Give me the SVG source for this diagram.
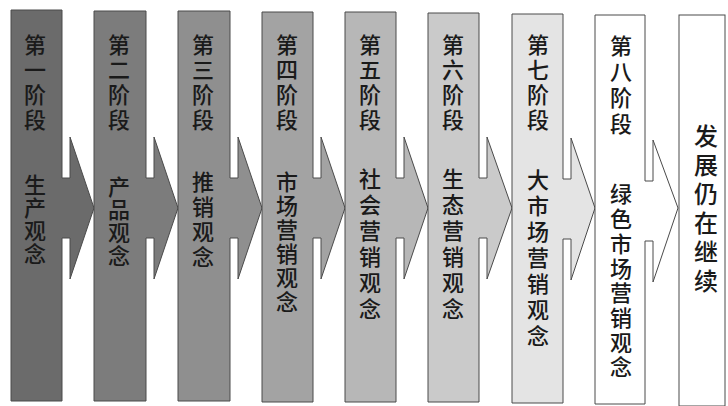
<svg xmlns="http://www.w3.org/2000/svg" width="728" height="406" viewBox="0 0 728 406">
<style>
.n{stroke:#4a4a4a;stroke-width:1}
.t{font-family:"Noto Sans CJK SC","Noto Sans",sans-serif;font-size:22px;font-weight:500;fill:#1a1a1a;text-anchor:middle;dominant-baseline:central}
.t9{font-size:24px}
</style>
<rect width="728" height="406" fill="#ffffff"/>
<g id="stage1">
<polygon class="n" fill="#6b6b6b" points="11,10 62,10 62,178 70,178 70,137 94,208 70,279 70,238 62,238 62,401 11,401"/>
<text class="t"><tspan x="35" y="43">第</tspan><tspan x="35" y="68">一</tspan><tspan x="35" y="93">阶</tspan><tspan x="35" y="118">段</tspan><tspan x="35" y="183">生</tspan><tspan x="35" y="206">产</tspan><tspan x="35" y="229">观</tspan><tspan x="35" y="252">念</tspan></text>
</g>
<g id="stage2">
<polygon class="n" fill="#7c7c7c" points="94,11 146,11 146,178 154,178 154,137 178,208 154,279 154,238 146,238 146,401 94,401"/>
<text class="t"><tspan x="119" y="43">第</tspan><tspan x="119" y="68">二</tspan><tspan x="119" y="93">阶</tspan><tspan x="119" y="118">段</tspan><tspan x="119" y="185">产</tspan><tspan x="119" y="208">品</tspan><tspan x="119" y="231">观</tspan><tspan x="119" y="254">念</tspan></text>
</g>
<g id="stage3">
<polygon class="n" fill="#8f8f8f" points="178,11 230,11 230,178 238,178 238,137 262,208 238,279 238,238 230,238 230,401 178,401"/>
<text class="t"><tspan x="203" y="43">第</tspan><tspan x="203" y="68">三</tspan><tspan x="203" y="93">阶</tspan><tspan x="203" y="118">段</tspan><tspan x="203" y="180">推</tspan><tspan x="203" y="205">销</tspan><tspan x="203" y="230">观</tspan><tspan x="203" y="255">念</tspan></text>
</g>
<g id="stage4">
<polygon class="n" fill="#a3a3a3" points="262,12 313,12 313,178 321,178 321,137 345,208 321,279 321,238 313,238 313,402 262,402"/>
<text class="t"><tspan x="287" y="43">第</tspan><tspan x="287" y="68">四</tspan><tspan x="287" y="93">阶</tspan><tspan x="287" y="118">段</tspan><tspan x="287" y="180">市</tspan><tspan x="287" y="204">场</tspan><tspan x="287" y="228">营</tspan><tspan x="287" y="252">销</tspan><tspan x="287" y="276">观</tspan><tspan x="287" y="300">念</tspan></text>
</g>
<g id="stage5">
<polygon class="n" fill="#b7b7b7" points="345,12 396,12 396,178 404,178 404,137 428,208 404,279 404,238 396,238 396,402 345,402"/>
<text class="t"><tspan x="370" y="43">第</tspan><tspan x="370" y="68">五</tspan><tspan x="370" y="93">阶</tspan><tspan x="370" y="118">段</tspan><tspan x="370" y="177">社</tspan><tspan x="370" y="203">会</tspan><tspan x="370" y="229">营</tspan><tspan x="370" y="255">销</tspan><tspan x="370" y="281">观</tspan><tspan x="370" y="307">念</tspan></text>
</g>
<g id="stage6">
<polygon class="n" fill="#cacaca" points="428,13 479,13 479,178 487,178 487,137 512,208 487,279 487,238 479,238 479,402 428,402"/>
<text class="t"><tspan x="453" y="43">第</tspan><tspan x="453" y="68">六</tspan><tspan x="453" y="93">阶</tspan><tspan x="453" y="118">段</tspan><tspan x="453" y="177">生</tspan><tspan x="453" y="203">态</tspan><tspan x="453" y="229">营</tspan><tspan x="453" y="255">销</tspan><tspan x="453" y="281">观</tspan><tspan x="453" y="307">念</tspan></text>
</g>
<g id="stage7">
<polygon class="n" fill="#e4e4e4" points="512,14 563,14 563,179 571,179 571,138 595,208 571,280 571,239 563,239 563,403 512,403"/>
<text class="t"><tspan x="538" y="43">第</tspan><tspan x="538" y="68">七</tspan><tspan x="538" y="93">阶</tspan><tspan x="538" y="118">段</tspan><tspan x="538" y="178">大</tspan><tspan x="538" y="204">市</tspan><tspan x="538" y="230">场</tspan><tspan x="538" y="256">营</tspan><tspan x="538" y="282">销</tspan><tspan x="538" y="308">观</tspan><tspan x="538" y="334">念</tspan></text>
</g>
<g id="stage8">
<polygon class="n" fill="#ffffff" points="595,15 645,15 645,181 653,181 653,140 678,208 653,282 653,241 645,241 645,404 595,404"/>
<text class="t"><tspan x="621" y="44">第</tspan><tspan x="621" y="70">八</tspan><tspan x="621" y="96">阶</tspan><tspan x="621" y="122">段</tspan><tspan x="621" y="192">绿</tspan><tspan x="621" y="217">色</tspan><tspan x="621" y="242">市</tspan><tspan x="621" y="267">场</tspan><tspan x="621" y="291">营</tspan><tspan x="621" y="316">销</tspan><tspan x="621" y="341">观</tspan><tspan x="621" y="365">念</tspan></text>
</g>
<g id="continue">
<rect class="n" fill="#ffffff" x="679" y="15" width="46" height="391"/>
<text class="t t9"><tspan x="706" y="134">发</tspan><tspan x="706" y="163">展</tspan><tspan x="706" y="192">仍</tspan><tspan x="706" y="221">在</tspan><tspan x="706" y="250">继</tspan><tspan x="706" y="279">续</tspan></text>
</g>
<g id="connectors"></g>
</svg>
